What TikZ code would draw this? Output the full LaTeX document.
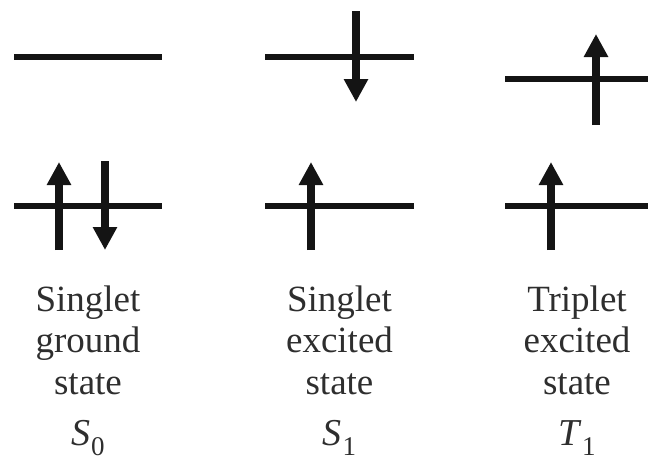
\documentclass[tikz,border=0pt]{standalone}
\usepackage{fontspec}
\setmainfont{Liberation Serif}
\usetikzlibrary{arrows.meta,positioning}
\newcommand{\statesym}[2]{\textit{#1}\kern0.3pt\raisebox{-0.28em}{\fontsize{13.5}{13.5}\selectfont #2}}

\begin{document}
\begin{tikzpicture}[x=0.5pt,y=-0.5pt,
  level/.style={line width=3.4pt,color=black!92},
  spin/.style={line width=3.8pt,color=black!92,-{Triangle[width=11.5pt,length=11.5pt]}},
  lbl/.style={align=center,inner sep=0pt,text=black!82,font=\fontsize{18.5}{20.6}\selectfont,anchor=base},
  sym/.style={inner sep=0pt,text=black!82,font=\fontsize{19}{20}\selectfont,anchor=base}]
\useasboundingbox (0,0) rectangle (648,461);
% S0
\draw[level] (14,57)--(162,57);
\draw[level] (14,206)--(162,206);
\coordinate (s0a) at (59,250);\coordinate (s0b) at (59,162);
\coordinate (s0c) at (105,161);\coordinate (s0d) at (105,250);
\draw[spin] (s0a)--(s0b);\draw[spin] (s0c)--(s0d);
% S1
\draw[level] (265,57)--(414,57);
\draw[level] (265,206)--(414,206);
\coordinate (s1a) at (356,11);\coordinate (s1b) at (356,102);
\coordinate (s1c) at (311,250);\coordinate (s1d) at (311,162);
\draw[spin] (s1a)--(s1b);\draw[spin] (s1c)--(s1d);
% T1
\draw[level] (505,79)--(648,79);
\draw[level] (505,206)--(648,206);
\coordinate (t1a) at (596,125);\coordinate (t1b) at (596,34);
\coordinate (t1c) at (551,250);\coordinate (t1d) at (551,162);
\draw[spin] (t1a)--(t1b);\draw[spin] (t1c)--(t1d);
% labels
\node[lbl] (s0txt) at (88,394) {Singlet\\ground\\state};
\node[lbl] (s1txt) at (339.5,394) {Singlet\\excited\\state};
\node[lbl] (t1txt) at (577,394) {Triplet\\excited\\state};
\node[sym] (s0sym) at (88,445) {\statesym{S}{0}};
\node[sym] (s1sym) at (339.5,445) {\statesym{S}{1}};
\node[sym] (t1sym) at (577,445) {\statesym{T}{1}};
\end{tikzpicture}
\end{document}
